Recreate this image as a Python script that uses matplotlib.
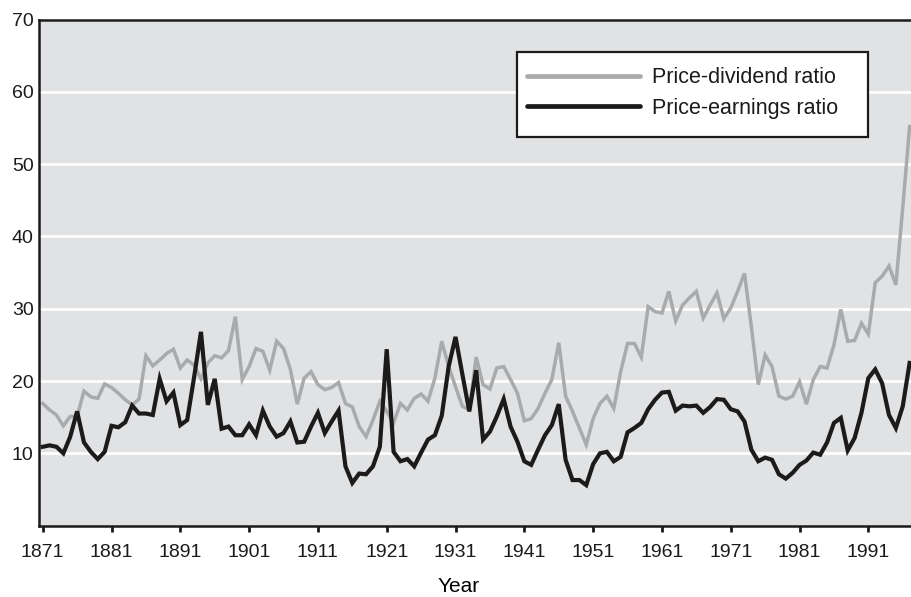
import numpy as np
import matplotlib
matplotlib.use("Agg")
import matplotlib.pyplot as plt
from matplotlib.patches import Rectangle

plt.rcParams["font.family"] = ["Liberation Sans", "DejaVu Sans"]
plt.rcParams["text.color"] = "#1c1a1b"

# 年 (1871-1997)
years = np.arange(1871, 1998)

# 株価配当比率 (灰色)
pd_ratio = [
    16.9, 16.0, 15.3, 13.8, 15.1, 15.1, 18.6, 17.8, 17.6, 19.6,
    19.1, 18.3, 17.4, 16.7, 17.5, 23.5, 22.1, 22.9, 23.8, 24.4,
    21.8, 22.9, 22.2, 20.3, 22.5, 23.5, 23.2, 24.2, 28.9, 20.2,
    22.0, 24.5, 24.1, 21.5, 25.5, 24.5, 21.6, 16.8, 20.4, 21.3,
    19.5, 18.8, 19.1, 19.8, 16.9, 16.4, 13.7, 12.3, 14.6, 17.2,
    15.8, 14.2, 16.9, 16.0, 17.6, 18.2, 17.2, 20.4, 25.5, 22.0,
    19.2, 16.5, 16.0, 23.3, 19.5, 18.9, 21.8, 22.0, 20.2, 18.3,
    14.5, 14.8, 16.2, 18.3, 20.2, 25.3, 17.9, 15.8, 13.5, 11.2,
    14.8, 16.9, 17.9, 16.2, 21.3, 25.2, 25.2, 23.3, 30.3, 29.6,
    29.4, 32.4, 28.3, 30.5, 31.5, 32.4, 28.7, 30.5, 32.2, 28.6,
    30.1, 32.4, 34.9, 27.5, 19.5, 23.6, 22.0, 17.9, 17.5, 17.9,
    19.9, 16.8, 20.2, 22.0, 21.8, 25.0, 29.9, 25.5, 25.6, 28.0,
    26.5, 33.6, 34.5, 35.9, 33.3, 44.0, 55.2,
]

# 株価収益率 (黒)
pe_ratio = [
    10.9, 11.1, 10.9, 10.0, 12.3, 15.8, 11.5, 10.2, 9.2, 10.2,
    13.8, 13.6, 14.3, 16.6, 15.5, 15.5, 15.3, 20.3, 17.2, 18.4,
    13.9, 14.6, 20.5, 26.8, 16.7, 20.3, 13.4, 13.7, 12.5, 12.5,
    14.0, 12.5, 15.9, 13.7, 12.3, 12.8, 14.4, 11.5, 11.6, 13.7,
    15.6, 12.8, 14.4, 15.9, 8.2, 5.9, 7.2, 7.1, 8.2, 10.9,
    24.4, 10.2, 8.9, 9.2, 8.2, 10.1, 11.9, 12.5, 15.2, 22.0,
    26.1, 20.9, 15.8, 21.5, 11.9, 13.0, 15.1, 17.5, 13.7, 11.6,
    8.9, 8.4, 10.5, 12.5, 13.9, 16.8, 9.1, 6.3, 6.3, 5.6,
    8.5, 10.0, 10.2, 8.9, 9.5, 12.9, 13.5, 14.2, 16.1, 17.4,
    18.4, 18.5, 15.9, 16.6, 16.5, 16.6, 15.6, 16.4, 17.5, 17.4,
    16.1, 15.8, 14.4, 10.5, 8.9, 9.4, 9.1, 7.1, 6.5, 7.3,
    8.4, 9.0, 10.1, 9.8, 11.5, 14.2, 14.9, 10.4, 12.1, 15.6,
    20.4, 21.6, 19.7, 15.3, 13.5, 16.5, 22.5,
]

xticks = np.arange(1871, 1992, 10)
yticks = [10, 20, 30, 40, 50, 60, 70]

ink = "#1c1a1b"

fig = plt.figure(figsize=(9.11, 5.97), dpi=100)
ax = fig.add_axes([0.0431, 0.1196, 0.9569, 0.8477])
ax.set_facecolor("#e1e2e4")

# グリッド
ax.grid(axis="y", color="white", linewidth=2.0)
ax.set_axisbelow(True)

ax.plot(years, pd_ratio, color="#a9aaac", linewidth=2.5, label="Price-dividend ratio",
        solid_joinstyle="miter")
ax.plot(years, pe_ratio, color=ink, linewidth=3.0, label="Price-earnings ratio",
        solid_joinstyle="miter")

ax.set_xlim(1870.5, 1997.2)
ax.set_ylim(0, 70)
ax.set_xticks(xticks)
ax.set_yticks(yticks)
ax.tick_params(axis="x", direction="out", length=4, width=2.0, labelsize=14, pad=9.5,
               color=ink, labelcolor=ink)
ax.tick_params(axis="y", length=0, labelsize=14, pad=4, labelcolor=ink)

for s in ["left", "bottom", "top"]:
    ax.spines[s].set_linewidth(1.8)
    ax.spines[s].set_color(ink)
ax.spines["right"].set_visible(False)

ax.set_xlabel("Year", fontsize=15, labelpad=11, x=0.4815)

# 凡例の枠 (右側に余白が広い)
ax.add_patch(Rectangle((0.548, 0.7678), 0.4027, 0.168, transform=ax.transAxes,
                       facecolor="white", edgecolor=ink, linewidth=1.6, zorder=4))
leg = ax.legend(loc="upper left", bbox_to_anchor=(0.5423, 0.9358), borderaxespad=0,
                fontsize=15.5, handlelength=5.25, handletextpad=0.55, labelspacing=0.45,
                borderpad=0.7, frameon=False)
leg.set_zorder(5)
for line in leg.get_lines():
    line.set_linewidth(3.4)
    line.set_solid_capstyle("round")

fig.savefig("out.png", dpi=100)
